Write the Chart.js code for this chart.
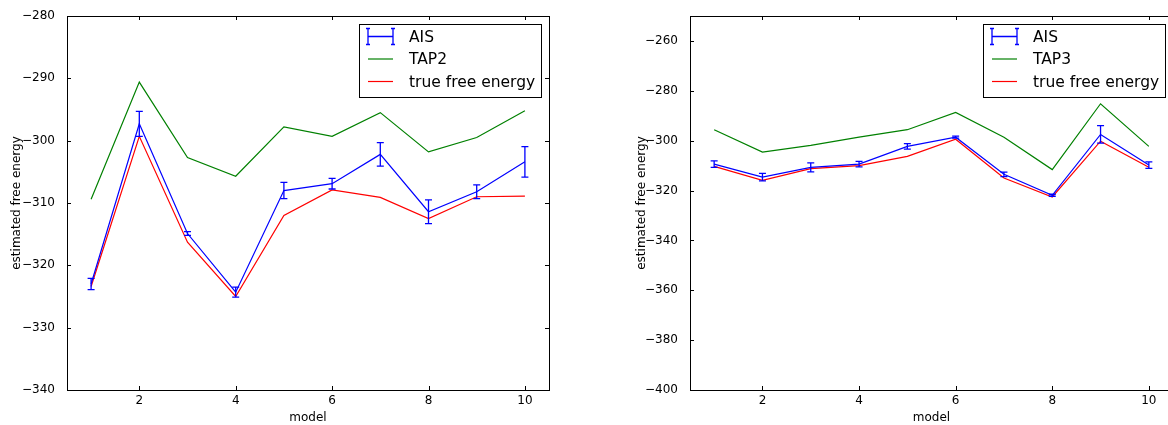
<!DOCTYPE html>
<html>
<head>
<meta charset="utf-8">
<script src="https://cdn.jsdelivr.net/npm/chart.js@4.4.0/dist/chart.umd.min.js"></script>
<style>
    html, body { margin: 0; padding: 0; background: #fff; overflow: hidden; }
    body { width: 1168px; height: 425px; position: relative; }
    .panel { position: absolute; top: 0; }
</style>
</head>
<body>
<div class="panel" style="left:0px"><canvas id="tap2Chart" width="584" height="425"></canvas></div>
<div class="panel" style="left:584px"><canvas id="tap3Chart" width="600" height="425"></canvas></div>
<script>
// data
const models = [1, 2, 3, 4, 5, 6, 7, 8, 9, 10];
const xTicks = [2, 4, 6, 8, 10];

// left panel (TAP2)
const ais2 = [-323.0, -297.3, -314.9, -324.3, -308.0, -306.9, -302.2, -311.4, -308.2, -303.4];
const ais2Err = [0.9, 2.0, 0.3, 0.8, 1.3, 0.85, 1.9, 1.9, 1.1, 2.45];
const tap2 = [-309.4, -290.6, -302.7, -305.7, -297.8, -299.3, -295.5, -301.8, -299.5, -295.2];
const true2 = [-323.4, -299.3, -316.3, -325.0, -312.0, -307.9, -309.1, -312.5, -309.0, -308.9];
const yTicks2 = [-340, -330, -320, -310, -300, -290, -280];

// right panel (TAP3)
const ais3 = [-309.4, -314.6, -310.7, -309.4, -302.3, -298.6, -313.5, -321.9, -297.5, -309.8];
const ais3Err = [1.3, 1.5, 1.8, 1.1, 1.1, 0.4, 0.9, 0.4, 3.5, 1.3];
const tap3 = [-295.6, -304.6, -301.9, -298.6, -295.6, -288.7, -298.6, -311.6, -285.2, -302.3];
const true3 = [-310.3, -315.9, -311.2, -310.0, -306.3, -299.4, -315.0, -322.6, -300.2, -310.7];
const yTicks3 = [-400, -380, -360, -340, -320, -300, -280, -260];

const colors = {
    blue: '#0000ff',
    green: '#008000',
    red: '#ff0000',
    ink: '#000000'
};

const FONT = "'DejaVu Sans', 'Liberation Sans', sans-serif";

const points = (ys) => models.map((x, i) => ({ x: x, y: ys[i] }));
const minus = (v) => String(v).replace('-', '\u2212');

// error bars for the AIS series
const errorBarPlugin = {
    id: 'errorBars',
    afterDatasetsDraw(chart, args, opts) {
        const { ctx, scales: { x, y } } = chart;
        ctx.save();
        ctx.strokeStyle = colors.blue;
        ctx.lineWidth = 1.3;
        opts.values.forEach((v, i) => {
            const px = x.getPixelForValue(models[i]);
            const top = y.getPixelForValue(v + opts.errors[i]);
            const bot = y.getPixelForValue(v - opts.errors[i]);
            ctx.beginPath();
            ctx.moveTo(px, top); ctx.lineTo(px, bot);
            ctx.moveTo(px - 3.5, top); ctx.lineTo(px + 3.5, top);
            ctx.moveTo(px - 3.5, bot); ctx.lineTo(px + 3.5, bot);
            ctx.stroke();
        });
        ctx.restore();
    }
};

// matplotlib-ish frame with inward ticks on all four sides
const framePlugin = {
    id: 'frame',
    afterDraw(chart) {
        const { ctx, chartArea: a, scales: { x, y } } = chart;
        const len = 4;
        ctx.save();
        ctx.strokeStyle = colors.ink;
        ctx.lineWidth = 1;
        ctx.beginPath();
        x.ticks.forEach(t => {
            const px = Math.round(x.getPixelForValue(t.value)) + 0.5;
            ctx.moveTo(px, a.bottom); ctx.lineTo(px, a.bottom - len);
            ctx.moveTo(px, a.top); ctx.lineTo(px, a.top + len);
        });
        y.ticks.forEach(t => {
            const py = Math.round(y.getPixelForValue(t.value)) + 0.5;
            ctx.moveTo(a.left, py); ctx.lineTo(a.left + len, py);
            ctx.moveTo(a.right, py); ctx.lineTo(a.right - len, py);
        });
        ctx.stroke();
        ctx.strokeRect(Math.round(a.left) + 0.5, Math.round(a.top) + 0.5,
            Math.round(a.right - a.left), Math.round(a.bottom - a.top));
        ctx.restore();
    }
};

// legend box in the upper right corner of the plot
const boxLegendPlugin = {
    id: 'boxLegend',
    afterDraw(chart, args, opts) {
        const { ctx, chartArea: a } = chart;
        ctx.save();
        ctx.font = '15.5px ' + FONT;
        const textW = Math.max(...opts.items.map(it => ctx.measureText(it.text).width));
        const w = Math.round(50 + textW + 6);
        const h = 73;
        const left = Math.round(a.right - 8 - w);
        const top = Math.round(a.top + 8);
        ctx.fillStyle = '#fff';
        ctx.fillRect(left, top, w, h);
        ctx.strokeStyle = colors.ink;
        ctx.lineWidth = 1;
        ctx.strokeRect(left + 0.5, top + 0.5, w, h);

        opts.items.forEach((it, i) => {
            const cy = top + 12.5 + i * 22.5;
            const x0 = left + 9, x1 = left + 34;
            ctx.strokeStyle = it.color;
            ctx.lineWidth = it.errorbar ? 1.3 : 1.2;
            ctx.beginPath();
            ctx.moveTo(x0, cy); ctx.lineTo(x1, cy);
            if (it.errorbar) {
                [x0, x1].forEach(xx => {
                    ctx.moveTo(xx, cy - 8); ctx.lineTo(xx, cy + 8);
                    ctx.moveTo(xx - 2, cy - 8); ctx.lineTo(xx + 2, cy - 8);
                    ctx.moveTo(xx - 2, cy + 8); ctx.lineTo(xx + 2, cy + 8);
                });
            }
            ctx.stroke();
            ctx.fillStyle = colors.ink;
            ctx.textBaseline = 'middle';
            ctx.fillText(it.text, left + 50, cy + 1);
        });
        ctx.restore();
    }
};

function lineSet(label, ys, color) {
    return {
        label: label,
        data: points(ys),
        borderColor: color,
        backgroundColor: color,
        borderWidth: 1.2,
        pointRadius: 0,
        tension: 0,
        fill: false
    };
}

function makePanel(id, cfg) {
    const ctx = document.getElementById(id);
    if (!ctx) return;

    new Chart(ctx, {
        type: 'line',
        data: {
            datasets: [
                lineSet('AIS', cfg.ais, colors.blue),
                lineSet(cfg.tapLabel, cfg.tap, colors.green),
                lineSet('true free energy', cfg.truth, colors.red)
            ]
        },
        options: {
            responsive: false,
            animation: false,
            layout: { padding: { left: 0, top: 16, right: cfg.padRight, bottom: 0 } },
            plugins: {
                legend: { display: false },
                tooltip: { enabled: false },
                errorBars: { values: cfg.ais, errors: cfg.err },
                boxLegend: {
                    items: [
                        { text: 'AIS', color: colors.blue, errorbar: true },
                        { text: cfg.tapLabel, color: colors.green },
                        { text: 'true free energy', color: colors.red }
                    ]
                }
            },
            scales: {
                x: {
                    type: 'linear',
                    min: 0.5,
                    max: 10.5,
                    afterBuildTicks: (s) => { s.ticks = xTicks.map(v => ({ value: v })); },
                    afterFit: (s) => { s.height = 35; },
                    grid: { display: false },
                    border: { display: false },
                    ticks: {
                        color: colors.ink,
                        padding: -4,
                        font: { family: FONT, size: 12 },
                        callback: (v) => String(v)
                    },
                    title: {
                        display: true,
                        text: 'model',
                        color: colors.ink,
                        padding: 0,
                        font: { family: FONT, size: 12 }
                    }
                },
                y: {
                    type: 'linear',
                    min: cfg.yTicks[0],
                    max: cfg.yMax,
                    afterBuildTicks: (s) => { s.ticks = cfg.yTicks.map(v => ({ value: v })); },
                    afterFit: (s) => { s.width = cfg.axisWidth; },
                    grid: { display: false },
                    border: { display: false },
                    ticks: {
                        color: colors.ink,
                        padding: 4,
                        font: { family: FONT, size: 12 },
                        callback: (v) => minus(v)
                    },
                    title: {
                        display: true,
                        text: 'estimated free energy',
                        color: colors.ink,
                        padding: { top: cfg.titlePad, bottom: 0 },
                        font: { family: FONT, size: 12 }
                    }
                }
            }
        },
        plugins: [errorBarPlugin, framePlugin, boxLegendPlugin]
    });
}

makePanel('tap2Chart', {
    ais: ais2, err: ais2Err, tap: tap2, truth: true2, tapLabel: 'TAP2',
    yTicks: yTicks2, yMax: -280, axisWidth: 67, padRight: 35, titlePad: 10
});

makePanel('tap3Chart', {
    ais: ais3, err: ais3Err, tap: tap3, truth: true3, tapLabel: 'TAP3',
    yTicks: yTicks3, yMax: -250, axisWidth: 106, padRight: 11, titlePad: 51
});
</script>
</body>
</html>
